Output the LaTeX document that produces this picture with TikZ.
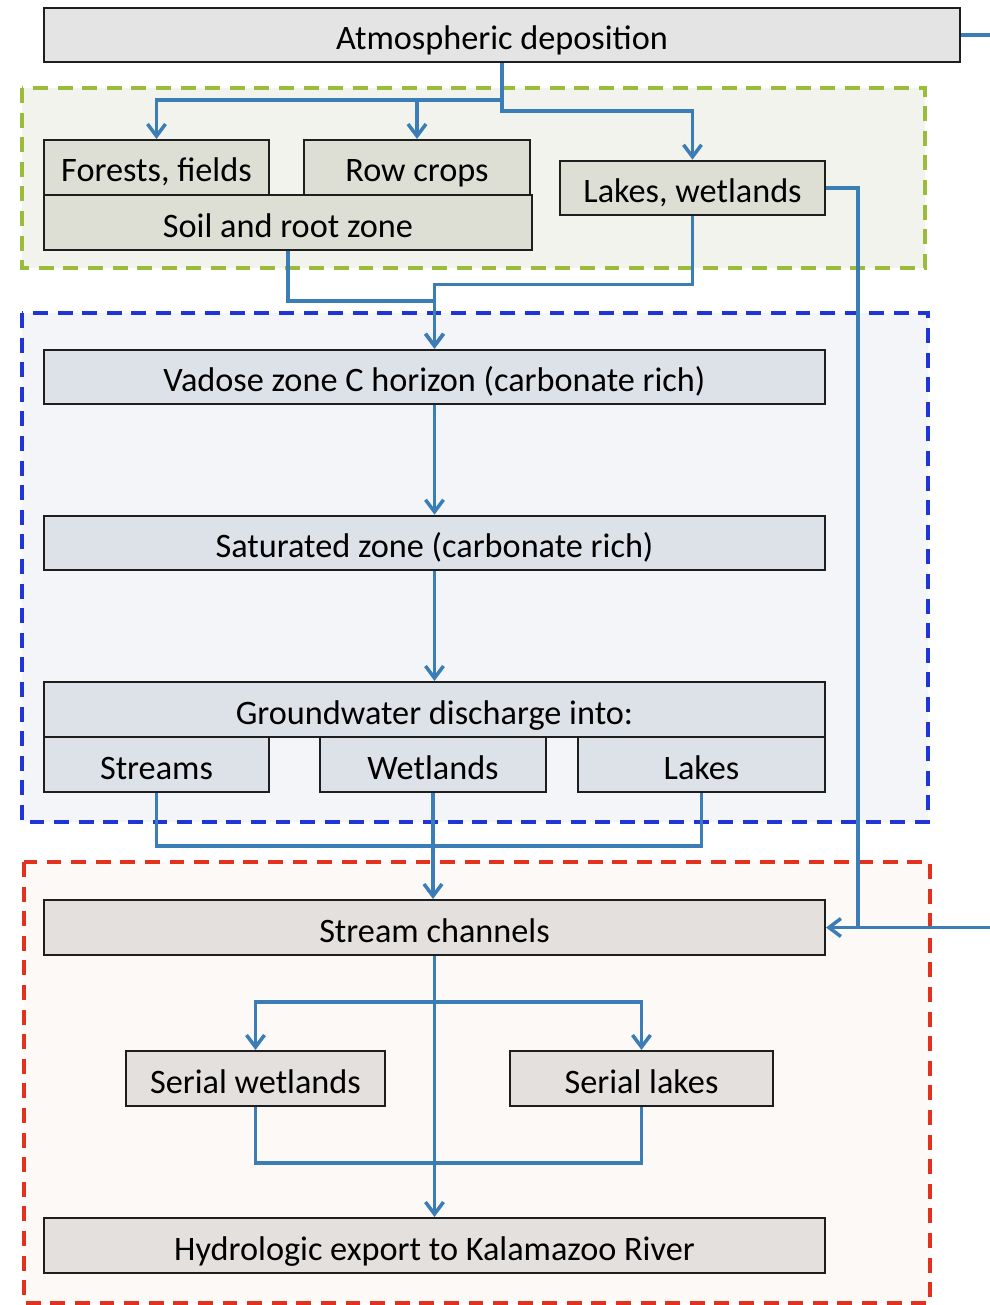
\documentclass[tikz,border=0pt]{standalone}
\usepackage{fontspec}
\setmainfont{Carlito}
\usetikzlibrary{arrows.meta}
\definecolor{conncol}{HTML}{3B7DB6}
\definecolor{greendash}{HTML}{9BBB3B}
\definecolor{bluedash}{HTML}{1F35D8}
\definecolor{reddash}{HTML}{E2311D}
\definecolor{greenreg}{HTML}{F1F3EC}
\definecolor{bluereg}{HTML}{F3F5F9}
\definecolor{redreg}{HTML}{FDF9F6}
\definecolor{atmofill}{HTML}{E4E4E4}
\definecolor{greenbox}{HTML}{DDDFD4}
\definecolor{bluebox}{HTML}{DDE1E8}
\definecolor{redbox}{HTML}{E3E0DE}
\definecolor{boxline}{HTML}{1E1E1E}
\tikzset{
  box/.style={draw=boxline, line width=1.2pt, inner sep=0pt, minimum height=1.09cm,
    font=\fontsize{19.5}{22}\selectfont, text=black, text height=21pt, text depth=4.5pt},
  region/.style={line width=2.1pt, dash pattern=on 8.5pt off 5.5pt},
  conn/.style={draw=conncol, line width=2pt},
  arr/.style={conn, -{Straight Barb[length=0.24cm,width=0.36cm,line width=2pt]}},
}
\begin{document}
\begin{tikzpicture}[x=0.02cm,y=-0.02cm]
\useasboundingbox[fill=white] (0,0) rectangle (990,1305);
\clip (0,0) rectangle (990,1305);
% regions
\path[region, draw=greendash, fill=greenreg] (22,88) rectangle (925,268);
\path[region, draw=bluedash, fill=bluereg, line width=2.4pt] (22,313) rectangle (928,822);
\path[region, draw=reddash, fill=redreg] (24,862) rectangle (930,1303);
% boxes
\node[box, fill=atmofill, minimum width=18.32cm] (atmo) at (502,35) {Atmospheric deposition};
\node[box, fill=greenbox, minimum width=4.5cm, minimum height=1.1cm] (forests) at (156.5,167.5) {Forests, fields};
\node[box, fill=greenbox, minimum width=4.52cm, minimum height=1.1cm] (rowcrops) at (417,167.5) {Row crops};
\node[box, fill=greenbox, minimum width=9.76cm, minimum height=1.1cm] (soil) at (288,222.5) {Soil and root zone};
\node[box, fill=greenbox, minimum width=5.3cm] (lakeswet) at (692.5,188) {Lakes, wetlands};
\node[box, fill=bluebox, minimum width=15.62cm] (vadose) at (434.5,377) {Vadose zone C horizon (carbonate rich)};
\node[box, fill=bluebox, minimum width=15.62cm] (saturated) at (434.5,543) {Saturated zone (carbonate rich)};
\node[box, fill=bluebox, minimum width=15.62cm, minimum height=1.1cm] (gw) at (434.5,709.5) {Groundwater discharge into:};
\node[box, fill=bluebox, minimum width=4.5cm, minimum height=1.1cm] (streams) at (156.5,764.5) {Streams};
\node[box, fill=bluebox, minimum width=4.52cm, minimum height=1.1cm] (wetlands) at (433,764.5) {Wetlands};
\node[box, fill=bluebox, minimum width=4.94cm, minimum height=1.1cm] (lakes) at (701.5,764.5) {Lakes};
\node[box, fill=redbox, minimum width=15.62cm, minimum height=1.1cm] (stream) at (434.5,927.5) {Stream channels};
\node[box, fill=redbox, minimum width=5.18cm, minimum height=1.1cm] (swet) at (255.5,1078.5) {Serial wetlands};
\node[box, fill=redbox, minimum width=5.26cm, minimum height=1.1cm] (slakes) at (641.5,1078.5) {Serial lakes};
\node[box, fill=redbox, minimum width=15.62cm, minimum height=1.1cm] (hydro) at (434.5,1245.5) {Hydrologic export to Kalamazoo River};
% junctions
\coordinate (j1) at (502,100);
\coordinate (j2) at (692.5,111);
\coordinate (j3) at (858,927.5);
\coordinate (j4) at (434.5,1002);
\coordinate (jout) at (1010,35);
% connectors
\draw[conn] (atmo.south) -- (j1);
\draw[arr] (j1) -| (forests.north);
\draw[arr] (j1) -| (rowcrops.north);
\draw[arr] (j1) |- (j2) -- (lakeswet.north);
\draw[arr] (soil.south) -- ++(0,50) -| (vadose.north);
\draw[arr] (lakeswet.south) -- ++(0,68) -| (vadose.north);
\draw[conn] (lakeswet.east) -| (j3);
\draw[arr] (atmo.east) -- (jout) |- (stream.east);
\draw[arr] (vadose.south) -- (saturated.north);
\draw[arr] (saturated.south) -- (gw.north);
\draw[conn] (streams.south) -- ++(0,53) -| (lakes.south);
\draw[arr] (wetlands.south) -- (wetlands.south |- stream.north);
\draw[conn] (stream.south) -- (j4);
\draw[arr] (j4) -| (swet.north);
\draw[arr] (j4) -| (slakes.north);
\draw[arr] (j4) -- (hydro.north);
\draw[conn] (swet.south) -- ++(0,56) -| (slakes.south);
\end{tikzpicture}
\end{document}
